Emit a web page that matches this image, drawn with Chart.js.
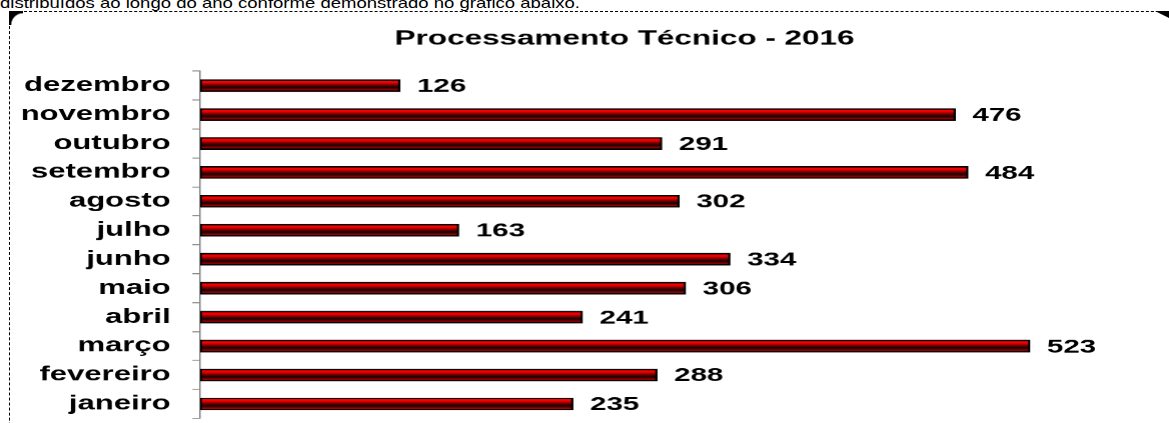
<!DOCTYPE html>
<html>
<head>
<meta charset="utf-8">
<script src="https://cdn.jsdelivr.net/npm/chart.js@4"></script>
<style>
  html, body { margin: 0; padding: 0; background: #fff; overflow: hidden; }
  body { width: 1169px; height: 423px; position: relative; }
  #intro { position: absolute; left: 0; top: -5px; font: 15px "Liberation Sans", Arial, sans-serif; line-height: 15px; color: #000; white-space: nowrap; transform-origin: 0 0; }
  #frame { position: absolute; left: 9px; top: 11px; width: 1200px; height: 500px; border-top: 1px dashed #000; border-left: 1px dashed #000; box-sizing: border-box; }
  #cornerL { position: absolute; left: 9px; top: 11px; width: 14px; height: 14px; background: radial-gradient(circle at 14px 14px, transparent 11px, #000 12.5px); }
  #cornerR { position: absolute; left: 1155px; top: 11px; width: 14px; height: 7px; background: #000; clip-path: polygon(0 0, 100% 0, 100% 100%); }
  #c { position: absolute; left: 0; top: 0; }
</style>
</head>
<body>
<div id="intro">distribuídos ao longo do ano conforme demonstrado no gráfico abaixo.</div>
<div id="frame"></div>
<div id="cornerL"></div>
<div id="cornerR"></div>
<canvas id="c" width="754" height="423" style="width:1169px;height:423px"></canvas>
<script>
const chartTitle = 'Processamento Técnico - 2016';
const months = ['janeiro','fevereiro','março','abril','maio','junho','julho','agosto','setembro','outubro','novembro','dezembro'];
const values = [235, 288, 523, 241, 306, 334, 163, 302, 484, 291, 476, 126];

// fit intro text width
(function(){
  const el = document.getElementById('intro');
  const w = el.getBoundingClientRect().width;
  el.style.transform = 'scaleX(' + (580 / w) + ')';
})();

const FONT = '"Liberation Sans", Arial, sans-serif';
const STRETCH = 1.55;

function barGradient(context) {
  const chart = context.chart;
  const area = chart.chartArea;
  if (!area) return '#e00000';
  const y = chart.scales.y.getPixelForValue(context.dataIndex);
  const g = chart.ctx.createLinearGradient(0, y - 6, 0, y + 6);
  g.addColorStop(0, '#ff0000');
  g.addColorStop(0.25, '#f00000');
  g.addColorStop(0.5, '#600000');
  g.addColorStop(0.65, '#120000');
  g.addColorStop(0.82, '#800000');
  g.addColorStop(1, '#ff0000');
  return g;
}

const valueLabels = {
  id: 'valueLabels',
  afterDatasetsDraw(chart) {
    const ctx = chart.ctx;
    const meta = chart.getDatasetMeta(0);
    ctx.save();
    ctx.font = 'bold 19px ' + FONT;
    ctx.fillStyle = '#000';
    ctx.textBaseline = 'middle';
    ctx.textAlign = 'left';
    meta.data.forEach((el, i) => {
      ctx.fillText(String(chart.data.datasets[0].data[i]), el.x + 11, el.y + 1);
    });
    ctx.restore();
  }
};

const titlePlugin = {
  id: 'fixedTitle',
  afterDraw(chart) {
    const ctx = chart.ctx;
    ctx.save();
    ctx.font = 'bold 20.3px ' + FONT;
    ctx.fillStyle = '#000';
    ctx.textAlign = 'center';
    ctx.textBaseline = 'middle';
    ctx.fillText(chartTitle, 402.6, 39);
    ctx.restore();
  }
};

new Chart(document.getElementById('c'), {
  type: 'bar',
  data: {
    labels: months,
    datasets: [{
      data: values,
      backgroundColor: barGradient,
      borderColor: '#000',
      borderWidth: 1.5,
      borderSkipped: false,
      barThickness: 12
    }]
  },
  options: {
    indexAxis: 'y',
    responsive: false,
    animation: false,
    devicePixelRatio: STRETCH,
    layout: { padding: { top: 71, bottom: 5, left: 0, right: 11.4 } },
    plugins: {
      legend: { display: false },
      title: { display: false },
      tooltip: { enabled: false }
    },
    scales: {
      x: { display: false, min: 0, max: 600 },
      y: {
        reverse: true,
        afterFit(s) { s.width = 129; s.paddingTop = 0; s.paddingBottom = 0; },
        grid: { display: true, drawOnChartArea: false, drawTicks: true, tickLength: 5, color: '#888', offset: true },
        border: { display: true, color: '#888', width: 1 },
        ticks: { color: '#000', padding: 14, font: { family: FONT, size: 20, weight: 'bold' } }
      }
    }
  },
  plugins: [valueLabels, titlePlugin]
});
</script>
</body>
</html>
